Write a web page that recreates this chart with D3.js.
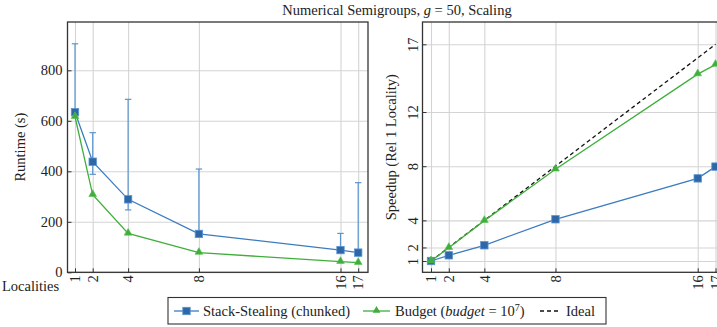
<!DOCTYPE html>
<html><head><meta charset="utf-8">
<script src="https://cdn.jsdelivr.net/npm/d3@7"></script>
<style>
body{margin:0;background:#fff;}
svg text{fill:#222;}
</style></head><body>
<svg id="c" width="717" height="327"></svg>
<script>
const localities = [1, 2, 4, 8, 16, 17];
const ssRuntime = [634, 438, 289, 152, 88, 78];
const ssErrLow = [626, 388, 247, 146, 82, 72];
const ssErrHigh = [905, 553, 685, 409, 154, 355];
const budgetRuntime = [616, 307, 154, 78, 42, 38];
const ssSpeedup = [1, 1.42, 2.16, 4.08, 7.1, 7.97];
const budgetSpeedup = [1, 1.98, 3.98, 7.77, 14.8, 15.5];
const idealSpeedup = [1, 17];
const idealX = [1, 17];
const runtimeTicks = [0, 200, 400, 600, 800];
const speedupTicks = [1, 2, 4, 8, 12, 17];

const FONT = "'Liberation Serif','DejaVu Serif',serif";
const FS = 14.5;
const blue = "#3b7cc0", blueMark = "#2d67a8", blueErr = "#5b94cf";
const green = "#3fae3a";
const gridC = "#d4d4d4";
const svg = d3.select("#c").attr("font-family", FONT);

const title = svg.append("text").attr("x", 397).attr("y", 15).attr("text-anchor", "middle").attr("font-size", FS);
title.append("tspan").text("Numerical Semigroups, ");
title.append("tspan").attr("font-style", "italic").text("g");
title.append("tspan").text(" = 50, Scaling");

function panel(opts) {
  const g = svg.append("g");
  const x = d3.scaleLinear().domain([1, 17]).range(opts.xr);
  const y = d3.scaleLinear().domain(opts.yd).range(opts.yr);
  const [fl, fr, ft, fb] = opts.frame;
  g.append("g").attr("transform", `translate(0,${fb})`)
    .call(d3.axisBottom(x).tickValues(localities).tickSize(-(fb - ft)).tickFormat(""))
    .call(a => { a.select(".domain").remove(); a.selectAll("line").attr("stroke", gridC).attr("stroke-width", 1.1); });
  g.append("g").attr("transform", `translate(${fl},0)`)
    .call(d3.axisLeft(y).tickValues(opts.yticks).tickSize(-(fr - fl)).tickFormat(""))
    .call(a => { a.select(".domain").remove(); a.selectAll("line").attr("stroke", gridC).attr("stroke-width", 1.1); });
  const xa = g.append("g").attr("transform", `translate(0,${fb})`)
    .call(d3.axisBottom(x).tickValues(localities).tickSize(4).tickFormat(d3.format("d")));
  xa.attr("font-family", FONT);
  xa.select(".domain").remove();
  xa.selectAll("line").attr("stroke", "#333").attr("y1", -4).attr("y2", 0);
  xa.selectAll("text").attr("font-size", FS).attr("fill", "#222")
    .attr("transform", "rotate(-90)").attr("text-anchor", "end").attr("x", -3).attr("y", 0).attr("dy", "0.33em");
  const ya = g.append("g").attr("transform", `translate(${fl},0)`)
    .call(d3.axisLeft(y).tickValues(opts.yticks).tickSize(4).tickFormat(d3.format("d")));
  ya.attr("font-family", FONT);
  ya.select(".domain").remove();
  ya.selectAll("line").attr("stroke", "#333").attr("x1", 0).attr("x2", 4);
  ya.selectAll("text").attr("font-size", FS).attr("fill", "#222");
  if (opts.rotY) {
    ya.selectAll("text").attr("transform", "rotate(-90)").attr("text-anchor", "middle").attr("x", 0).attr("y", -5).attr("dy", 0);
  } else {
    ya.selectAll("text").attr("x", -5);
  }
  g.append("rect").attr("x", fl).attr("y", ft).attr("width", fr - fl).attr("height", fb - ft)
    .attr("fill", "none").attr("stroke", "#333").attr("stroke-width", 1.3);
  g.append("text").attr("transform", `translate(${opts.ylx},${(ft + fb) / 2}) rotate(-90)`)
    .attr("text-anchor", "middle").attr("font-size", FS).text(opts.ylabel);
  return {x, y, g};
}

function series(p, xs, ys, color, markFill, markStroke, marker) {
  const line = d3.line().x((d, i) => p.x(xs[i])).y(d => p.y(d));
  p.g.append("path").datum(ys).attr("d", line).attr("fill", "none").attr("stroke", color).attr("stroke-width", 1.3);
  if (marker === "square") {
    p.g.selectAll(null).data(ys).enter().append("rect")
      .attr("x", (d, i) => p.x(xs[i]) - 3.7).attr("y", d => p.y(d) - 3.7)
      .attr("width", 7.4).attr("height", 7.4).attr("fill", markFill).attr("stroke", markStroke).attr("stroke-width", 0.8);
  } else {
    const tri = d3.symbol().type(d3.symbolTriangle).size(26);
    p.g.selectAll(null).data(ys).enter().append("path").attr("d", tri)
      .attr("transform", (d, i) => `translate(${p.x(xs[i])},${p.y(d) - 0.5})`)
      .attr("fill", markFill).attr("stroke", markStroke).attr("stroke-width", 0.6);
  }
}

const L = panel({xr: [75, 358.2], yd: [0, 800], yr: [272.3, 70.3], frame: [67.5, 368, 22, 272.3],
  yticks: runtimeTicks, ylabel: "Runtime (s)", ylx: 25, rotY: false});
localities.forEach((lx, i) => {
  const cx = L.x(lx);
  L.g.append("line").attr("x1", cx).attr("x2", cx).attr("y1", L.y(ssErrLow[i])).attr("y2", L.y(ssErrHigh[i]))
    .attr("stroke", blueErr).attr("stroke-width", 1.2);
  [ssErrLow[i], ssErrHigh[i]].forEach(v => {
    L.g.append("line").attr("x1", cx - 3.2).attr("x2", cx + 3.2).attr("y1", L.y(v)).attr("y2", L.y(v))
      .attr("stroke", blueErr).attr("stroke-width", 1.2);
  });
});
series(L, localities, ssRuntime, blue, blueMark, "#5a93d0", "square");
series(L, localities, budgetRuntime, green, green, "#55c04f", "triangle");
svg.append("text").attr("x", 2).attr("y", 290.5).attr("font-size", FS).text("Localities");

const R = panel({xr: [431, 715.5], yd: [1, 17], yr: [261, 44.3], frame: [422.5, 725, 22, 272.3],
  yticks: speedupTicks, ylabel: "Speedup (Rel 1 Locality)", ylx: 396, rotY: true});
R.g.append("path").datum(idealSpeedup)
  .attr("d", d3.line().x((d, i) => R.x(idealX[i])).y(d => R.y(d)))
  .attr("fill", "none").attr("stroke", "#111").attr("stroke-width", 1.3).attr("stroke-dasharray", "4,3");
series(R, localities, ssSpeedup, blue, blueMark, "#5a93d0", "square");
series(R, localities, budgetSpeedup, green, green, "#55c04f", "triangle");

const lg = svg.append("g");
lg.append("rect").attr("x", 168).attr("y", 297.5).attr("width", 438).attr("height", 26.5)
  .attr("fill", "#fff").attr("stroke", "#333").attr("stroke-width", 1.1);
const ly = 311;
lg.append("line").attr("x1", 174).attr("x2", 199).attr("y1", ly).attr("y2", ly).attr("stroke", blue).attr("stroke-width", 1.3);
lg.append("rect").attr("x", 186.5 - 3.7).attr("y", ly - 3.7).attr("width", 7.4).attr("height", 7.4).attr("fill", blueMark).attr("stroke", "#5a93d0").attr("stroke-width", 0.8);
lg.append("text").attr("x", 203).attr("y", ly + 5).attr("font-size", FS).text("Stack-Stealing (chunked)");
lg.append("line").attr("x1", 363).attr("x2", 390).attr("y1", ly).attr("y2", ly).attr("stroke", green).attr("stroke-width", 1.3);
lg.append("path").attr("d", d3.symbol().type(d3.symbolTriangle).size(26)).attr("transform", `translate(376.5,${ly - 0.5})`).attr("fill", green);
const bt = lg.append("text").attr("x", 395).attr("y", ly + 5).attr("font-size", FS);
bt.append("tspan").text("Budget (");
bt.append("tspan").attr("font-style", "italic").text("budget");
bt.append("tspan").text(" = 10");
bt.append("tspan").attr("font-size", 10).attr("dy", -5.5).text("7");
bt.append("tspan").attr("dy", 5.5).text(")");
lg.append("line").attr("x1", 540).attr("x2", 561).attr("y1", ly).attr("y2", ly).attr("stroke", "#111").attr("stroke-width", 1.3).attr("stroke-dasharray", "4,3");
lg.append("text").attr("x", 566).attr("y", ly + 5).attr("font-size", FS).text("Ideal");
</script></body></html>
